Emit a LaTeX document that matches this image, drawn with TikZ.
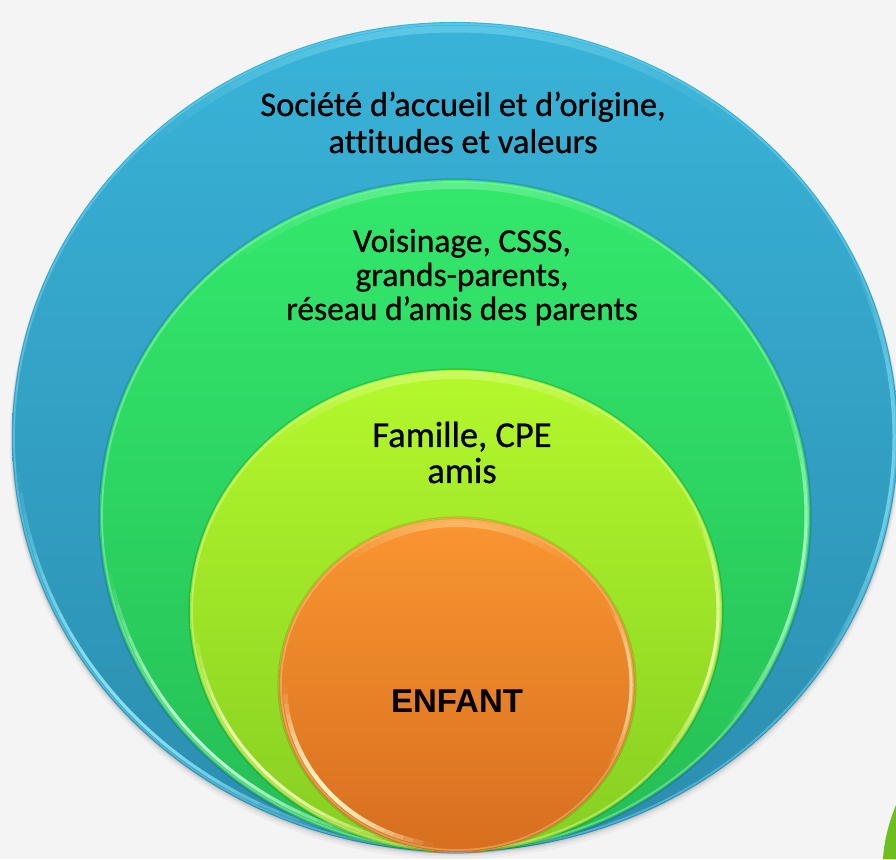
\documentclass[tikz,border=0pt]{standalone}
\usepackage{fontspec}
\setmainfont{Carlito}[Ligatures={NoCommon}, FakeBold=0.7]
\newfontfamily\enfantfont{Liberation Sans}
\definecolor{bgc}{HTML}{F4F4F4}
\definecolor{blueT}{HTML}{39B3D8}
\definecolor{blueB}{HTML}{2B8DAE}
\definecolor{blueRim}{HTML}{8BE6FA}
\definecolor{greenT}{HTML}{33E86C}
\definecolor{greenB}{HTML}{25BE55}
\definecolor{greenRim}{HTML}{C0FFD6}
\definecolor{yelT}{HTML}{B4F82C}
\definecolor{yelB}{HTML}{86CE22}
\definecolor{yelRim}{HTML}{F6FFB8}
\definecolor{oraT}{HTML}{F99631}
\definecolor{oraB}{HTML}{D66F1F}
\definecolor{oraRim}{HTML}{FFF2C0}
\definecolor{cornergreen}{HTML}{6CBF1F}
\tikzset{
  rimthin/.style={line width=1.8pt, opacity=0.4},
  edgeshade/.style={draw=black, line width=1.2pt, opacity=0.12},
  lbl/.style={anchor=base, align=center, inner sep=0pt, text=black}
}
% faded highlight arc: cx cy rx ry a1 a2 colour width peak
\newcommand{\myrim}[9]{%
  \foreach \k in {0,...,23}{%
    \pgfmathsetmacro{\sa}{#5+(#6-#5)*\k/24}%
    \pgfmathsetmacro{\ea}{#5+(#6-#5)*(\k+1)/24}%
    \pgfmathsetmacro{\op}{#9*sin(180*(\k+0.5)/24)}%
    \draw[#7, line width=#8, opacity=\op] (#1,#2) ++(\sa:#3pt and #4pt) arc[start angle=\sa, end angle=\ea, x radius=#3pt, y radius=#4pt];
  }}
\begin{document}
\begin{tikzpicture}[x=1pt,y=1pt]
\useasboundingbox (0,0) rectangle (896,859);
\fill[bgc] (0,0) rectangle (896,859);
% corner shape bottom right
\fill[cornergreen] (896,54) .. controls (889,37) and (884,18) .. (883,0) -- (896,0) -- cycle;
% soft shadow below the rings
\foreach \d/\o in {8/0.03,5/0.04,3/0.05,1.5/0.06}{
  \fill[black,opacity=\o] (455,{422-\d*0.6}) ellipse [x radius={443+\d*0.3}, y radius={415+\d*0.3}];
}
% ---- blue ring
\shade[top color=blueT, bottom color=blueB] (455,422) ellipse [x radius=443, y radius=415];
\draw[blueRim, rimthin] (455,422) ellipse [x radius=441, y radius=413];
\myrim{455}{422}{438}{410}{185}{255}{blueRim}{3.2pt}{0.95}
\myrim{455}{422}{439}{411}{-35}{25}{blueRim}{3pt}{0.7}
\myrim{455}{422}{436}{408}{50}{135}{blueRim}{7pt}{0.4}
% ---- green ring
\draw[edgeshade] (455,343) ellipse [x radius=356, y radius=337];
\shade[top color=greenT, bottom color=greenB] (455,343) ellipse [x radius=355, y radius=336];
\draw[greenRim, rimthin] (455,343) ellipse [x radius=353, y radius=334];
\myrim{455}{343}{350}{331}{190}{258}{greenRim}{3.2pt}{0.95}
\myrim{455}{343}{351}{332}{-40}{22}{greenRim}{3pt}{0.8}
\myrim{455}{343}{349}{330}{55}{130}{greenRim}{6pt}{0.3}
% ---- yellow-green ring
\draw[edgeshade] (456,248) ellipse [x radius=267, y radius=242];
\shade[top color=yelT, bottom color=yelB] (456,248) ellipse [x radius=266, y radius=241];
\draw[yelRim, rimthin] (456,248) ellipse [x radius=264, y radius=239];
\myrim{456}{248}{261}{236}{185}{258}{yelRim}{3.2pt}{0.95}
\myrim{456}{248}{262}{237}{-40}{25}{yelRim}{3pt}{0.85}
\myrim{456}{248}{260}{235}{50}{135}{yelRim}{6pt}{0.35}
% ---- orange core
\draw[edgeshade] (457,174) ellipse [x radius=179, y radius=168];
\shade[top color=oraT, bottom color=oraB] (457,174) ellipse [x radius=178, y radius=167];
\draw[oraRim, rimthin, opacity=0.3] (457,174) ellipse [x radius=176, y radius=165];
\myrim{457}{174}{172}{161}{180}{262}{oraRim}{4.5pt}{1}
\myrim{457}{174}{174}{163}{-30}{30}{oraRim}{3pt}{0.75}
\myrim{457}{174}{172}{161}{50}{130}{oraRim}{6pt}{0.35}
% ---- labels (base anchor = baseline of the last line)
\node[lbl, font=\fontsize{34.5}{37}\selectfont] (soc) at (463,706) {Société d’accueil et d’origine,\\attitudes et valeurs};
\node[lbl, font=\fontsize{33.5}{34}\selectfont] (vois) at (462,539) {Voisinage, CSSS,\\grands-parents,\\réseau d’amis des parents};
\node[lbl, font=\fontsize{36.5}{36}\selectfont] (fam) at (462,376) {Famille, CPE\\amis};
\node[lbl, font=\enfantfont\bfseries\fontsize{33}{33}\selectfont] (enf) at (457,146) {ENFANT};
\end{tikzpicture}
\end{document}
